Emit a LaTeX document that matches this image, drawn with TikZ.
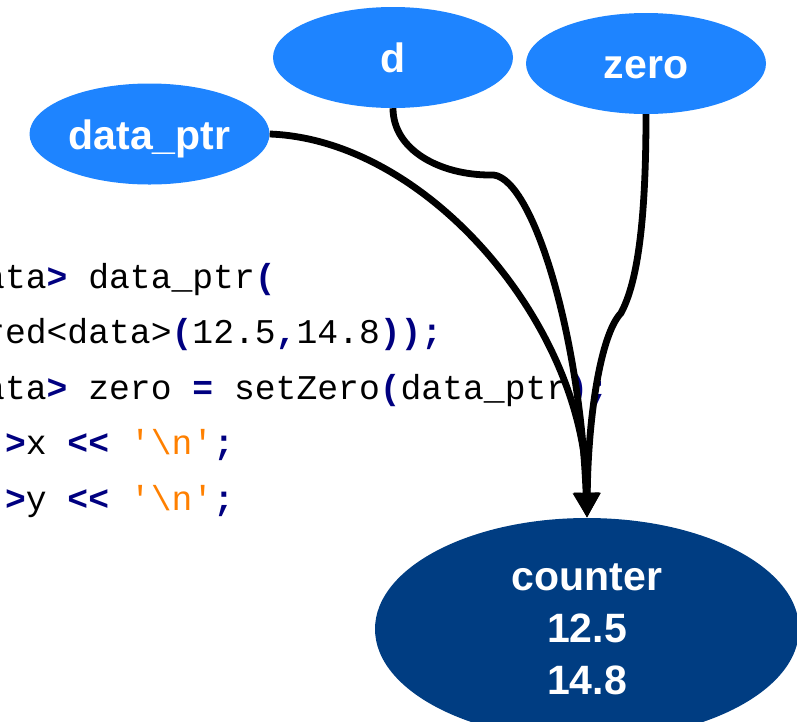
\documentclass[tikz,border=0pt]{standalone}
\usepackage{fontspec}
\setsansfont{Liberation Sans}
\setmonofont{Liberation Mono}
\usetikzlibrary{arrows.meta, shapes.geometric}

\definecolor{ptrblue}{HTML}{1E84FF}
\definecolor{objblue}{HTML}{003D82}
\definecolor{kwnavy}{HTML}{000080}
\definecolor{chorange}{HTML}{FF8000}
\newcommand{\opc}[1]{\textcolor{kwnavy}{\bfseries #1}}
\newcommand{\chq}[1]{\textcolor{chorange}{#1}}

\begin{document}
\begin{tikzpicture}[
            x=1pt,
            y=-1pt,
            >={Triangle[length=25pt, width=25pt]},
            ptrnode/.style={ellipse, fill=ptrblue, text=white, inner sep=0pt,
                minimum width=240pt, minimum height=101pt,
                text height=30pt, text depth=0pt,
                font=\sffamily\bfseries\fontsize{41}{49}\selectfont},
            objnode/.style={ellipse, fill=objblue, text=white, inner sep=0pt,
                minimum width=424pt, minimum height=222pt, align=center,
                font=\sffamily\bfseries\fontsize{41}{52}\selectfont},
            codeline/.style={anchor=base west, inner sep=0pt,
                font=\ttfamily\fontsize{34.7}{40}\selectfont},
            refedge/.style={->, line width=6.8pt}
        ]

            % --- Frame ---
            \useasboundingbox (0,0) rectangle (797,721);
            \clip (0,0) rectangle (797,721);

            % --- Code Listing (cut at the left) ---
            \def\colzero{-16}
            \node[codeline] (ln1) at (\colzero,288)   {ata\opc{>} data\_ptr\opc{(}};
            \node[codeline] (ln2) at (\colzero,343.5) {red<data>\opc{(}12.5\opc{,}14.8\opc{));}};
            \node[codeline] (ln3) at (\colzero,399)   {ata\opc{>} zero \opc{=} setZero\opc{(}data\_ptr\opc{);}};
            \node[codeline] (ln4) at (\colzero,454.5) {\opc{->}x \opc{<<} \chq{'\textbackslash n'}\opc{;}};
            \node[codeline] (ln5) at (\colzero,510)   {\opc{->}y \opc{<<} \chq{'\textbackslash n'}\opc{;}};

            % --- Pointers ---
            \node[ptrnode] (dptr) at (149.5,134) {data\_ptr};
            \node[ptrnode] (d)    at (393,57.5)  {d};
            \node[ptrnode] (zero) at (646,63.5)  {zero};

            % --- Shared Object ---
            \node[objnode] (counter) at (587,629) {counter\\12.5\\14.8};

            % --- References ---
            \draw[refedge] (dptr.east) .. controls (430,140) and (587,330) .. (counter.north);
            \draw[refedge] (d.south) .. controls (393,150) and (440,175) .. (490,175)
                .. controls (530,170) and (580,330) .. (counter.north);
            \draw[refedge] (zero.south) .. controls (646,230) and (636,285) .. (621,313)
                .. controls (600,335) and (588,420) .. (counter.north);

        \end{tikzpicture}
\end{document}
